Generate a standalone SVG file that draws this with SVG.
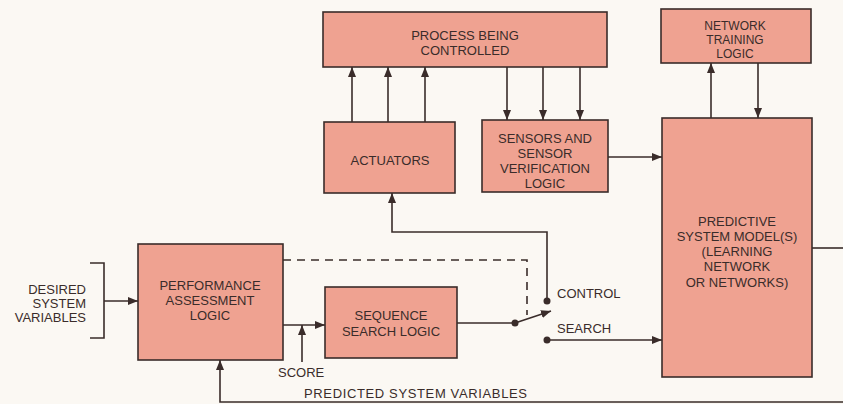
<svg xmlns="http://www.w3.org/2000/svg" width="843" height="404" viewBox="0 0 843 404">
<defs>
<style>
.box{fill:#EFA291;stroke:#3a2c2a;stroke-width:1.6}
.t{font-family:"Liberation Sans",Arial,sans-serif;font-size:13px;fill:#3a2c2a;text-anchor:middle}
.s{font-size:12px}
.l{font-family:"Liberation Sans",Arial,sans-serif;font-size:13px;fill:#3a2c2a}
.c{fill:none;stroke:#3a2c2a;stroke-width:1.6}
.d{fill:none;stroke:#3a2c2a;stroke-width:1.6;stroke-dasharray:8 6}
.dot{fill:#3a2c2a}
</style>
<marker id="ah" viewBox="0 0 10 8" refX="10" refY="4" markerWidth="10" markerHeight="8" markerUnits="userSpaceOnUse" orient="auto">
<path d="M0,0 L10,4 L0,8 Z" fill="#3a2c2a"/>
</marker>
</defs>
<rect width="843" height="404" fill="#FBF8F3"/>

<g id="process">
<rect class="box" x="323" y="12" width="284" height="55"/>
<text class="t" x="465" y="40">PROCESS BEING</text>
<text class="t" x="465" y="55">CONTROLLED</text>
</g>
<g id="actuators">
<rect class="box" x="324" y="122" width="131" height="71"/>
<text class="t" x="390" y="165">ACTUATORS</text>
</g>
<g id="sensors">
<rect class="box" x="482" y="120" width="126" height="72"/>
<text class="t" x="545" y="143">SENSORS AND</text>
<text class="t" x="545" y="158">SENSOR</text>
<text class="t" x="545" y="173">VERIFICATION</text>
<text class="t" x="545" y="188">LOGIC</text>
</g>
<g id="training">
<rect class="box" x="661" y="9" width="150" height="54"/>
<text class="t s" x="735" y="30">NETWORK</text>
<text class="t s" x="735" y="44">TRAINING</text>
<text class="t s" x="735" y="58">LOGIC</text>
</g>
<g id="predictive">
<rect class="box" x="662" y="118" width="150" height="259"/>
<text class="t" x="737" y="226">PREDICTIVE</text>
<text class="t" x="737" y="241">SYSTEM MODEL(S)</text>
<text class="t" x="737" y="256">(LEARNING</text>
<text class="t" x="737" y="271">NETWORK</text>
<text class="t" x="737" y="287">OR NETWORKS)</text>
</g>
<g id="performance">
<rect class="box" x="138" y="244" width="145" height="116"/>
<text class="t" x="210" y="290">PERFORMANCE</text>
<text class="t" x="210" y="305">ASSESSMENT</text>
<text class="t" x="210" y="320">LOGIC</text>
</g>
<g id="sequence">
<rect class="box" x="325" y="287" width="132" height="71"/>
<text class="t" x="391" y="320">SEQUENCE</text>
<text class="t" x="391" y="336">SEARCH LOGIC</text>
</g>
<g id="desired">
<path class="c" d="M90,263 H104 V338 H90"/>
<text class="l s" x="86" y="294" text-anchor="end">DESIRED</text>
<text class="l s" x="86" y="308" text-anchor="end">SYSTEM</text>
<text class="l s" x="86" y="322" text-anchor="end">VARIABLES</text>
</g>

<g id="connectors">
<line class="c" x1="352" y1="122" x2="352" y2="67" marker-end="url(#ah)"/>
<line class="c" x1="388" y1="122" x2="388" y2="67" marker-end="url(#ah)"/>
<line class="c" x1="425" y1="122" x2="425" y2="67" marker-end="url(#ah)"/>
<line class="c" x1="507" y1="67" x2="507" y2="120" marker-end="url(#ah)"/>
<line class="c" x1="543" y1="67" x2="543" y2="120" marker-end="url(#ah)"/>
<line class="c" x1="580" y1="67" x2="580" y2="120" marker-end="url(#ah)"/>
<line class="c" x1="608" y1="157" x2="662" y2="157" marker-end="url(#ah)"/>
<line class="c" x1="711" y1="118" x2="711" y2="63" marker-end="url(#ah)"/>
<line class="c" x1="758" y1="63" x2="758" y2="118" marker-end="url(#ah)"/>
<line class="c" x1="812" y1="248" x2="843" y2="248"/>
<line class="c" x1="104" y1="301" x2="138" y2="301" marker-end="url(#ah)"/>
<line class="c" x1="283" y1="325" x2="325" y2="325" marker-end="url(#ah)"/>
<line class="c" x1="302" y1="362" x2="302" y2="325" marker-end="url(#ah)"/>
<path class="d" d="M283,260 H527 V315"/>
<line class="c" x1="457" y1="323" x2="515" y2="323"/>
<line class="c" x1="515" y1="323" x2="551" y2="311" marker-end="url(#ah)"/>
<circle class="dot" cx="515" cy="323" r="3.5"/>
<path class="c" d="M547,301 V232 H392 V193" marker-end="url(#ah)"/>
<circle class="dot" cx="547" cy="301" r="3.5"/>
<line class="c" x1="547" y1="340" x2="662" y2="340" marker-end="url(#ah)"/>
<circle class="dot" cx="547" cy="340" r="3.5"/>
<path class="c" d="M843,402 H220 V360" marker-end="url(#ah)"/>
</g>

<text class="l" x="557" y="298">CONTROL</text>
<text class="l" x="557" y="333">SEARCH</text>
<text class="l" x="278" y="377">SCORE</text>
<text class="l" x="304" y="398" textLength="223">PREDICTED  SYSTEM VARIABLES</text>
</svg>
